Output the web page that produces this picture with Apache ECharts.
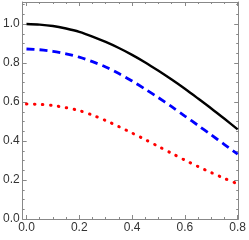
<!DOCTYPE html>
<html><head><meta charset="utf-8">
<script src="https://cdn.jsdelivr.net/npm/echarts@6/dist/echarts.min.js"></script>
<style>html,body{margin:0;padding:0;background:#fff}#c{width:249px;height:240px}</style>
</head><body><div id="c"></div>
<script>
const xValues = [0,0.05,0.1,0.15,0.2,0.25,0.3,0.35,0.4,0.45,0.5,0.55,0.6,0.65,0.7,0.75,0.8];
const blackValues = [1.0,0.997,0.99,0.977,0.96,0.936,0.908,0.877,0.842,0.803,0.76,0.715,0.668,0.618,0.567,0.514,0.46];
const blueValues = [0.872,0.868,0.86,0.847,0.83,0.807,0.78,0.746,0.708,0.666,0.622,0.576,0.528,0.48,0.431,0.382,0.333];
const redValues = [0.59,0.588,0.582,0.571,0.556,0.533,0.505,0.474,0.441,0.407,0.372,0.337,0.302,0.269,0.238,0.208,0.18];
const xMajorTicks = [0,0.2,0.4,0.6,0.8];
const xMinorTicks = [0.05,0.1,0.15,0.25,0.3,0.35,0.45,0.5,0.55,0.65,0.7,0.75];
const yMajorTicks = [0,0.2,0.4,0.6,0.8,1.0];
const yMinorTicks = [0.05,0.1,0.15,0.25,0.3,0.35,0.45,0.5,0.55,0.65,0.7,0.75,0.85,0.9,0.95,1.05,1.1];

const X_MIN = -0.0144, X_MAX = 0.802, Y_MIN = 0, Y_MAX = 1.113;
const frameColor = '#888';
const labelStyle = {color:'#333', fontSize:12, fontFamily:'"Liberation Sans Narrow","Liberation Sans",sans-serif'};
function ax(pos, min, max, ticks, len, labels, line){
  return {
    type:'value', position:pos, min:min, max:max,
    axisLine:{show:line, onZero:false, lineStyle:{color:frameColor, width:1}},
    axisTick:{show:true, inside:true, length:len, customValues:ticks, lineStyle:{color:frameColor, width:1}},
    axisLabel: labels ? Object.assign({show:true, customValues:ticks, margin:3, formatter:v=>v.toFixed(1)}, labelStyle) : {show:false},
    splitLine:{show:false}
  };
}
const chart = echarts.init(document.getElementById('c'), null, {renderer:'canvas'});
const mk = (vals)=> xValues.map((x,i)=>[x, vals[i]]);
chart.setOption({
  animation:false,
  grid:{left:16, right:6, top:2, bottom:21, containLabel:false},
  xAxis:[
    ax('bottom', X_MIN, X_MAX, xMajorTicks, 4, true, true),
    ax('bottom', X_MIN, X_MAX, xMinorTicks, 2, false, false),
    ax('top', X_MIN, X_MAX, xMajorTicks, 4, false, true),
    ax('top', X_MIN, X_MAX, xMinorTicks, 2, false, false)
  ],
  yAxis:[
    ax('left', Y_MIN, Y_MAX, yMajorTicks, 4, true, true),
    ax('left', Y_MIN, Y_MAX, yMinorTicks, 2, false, false),
    ax('right', Y_MIN, Y_MAX, yMajorTicks, 4, false, true),
    ax('right', Y_MIN, Y_MAX, yMinorTicks, 2, false, false)
  ],
  series:[
    {type:'line', data:mk(blackValues), smooth:0.3, showSymbol:false, lineStyle:{color:'#000', width:2.4}},
    {type:'line', data:mk(blueValues), smooth:0.3, showSymbol:false, lineStyle:{color:'#0000ff', width:2.8, type:[8,5]}},
    {type:'line', data:mk(redValues), smooth:0.3, showSymbol:false, lineStyle:{color:'#ff0000', width:3, type:[0.5,7.5], cap:'round'}}
  ]
});
</script></body></html>
